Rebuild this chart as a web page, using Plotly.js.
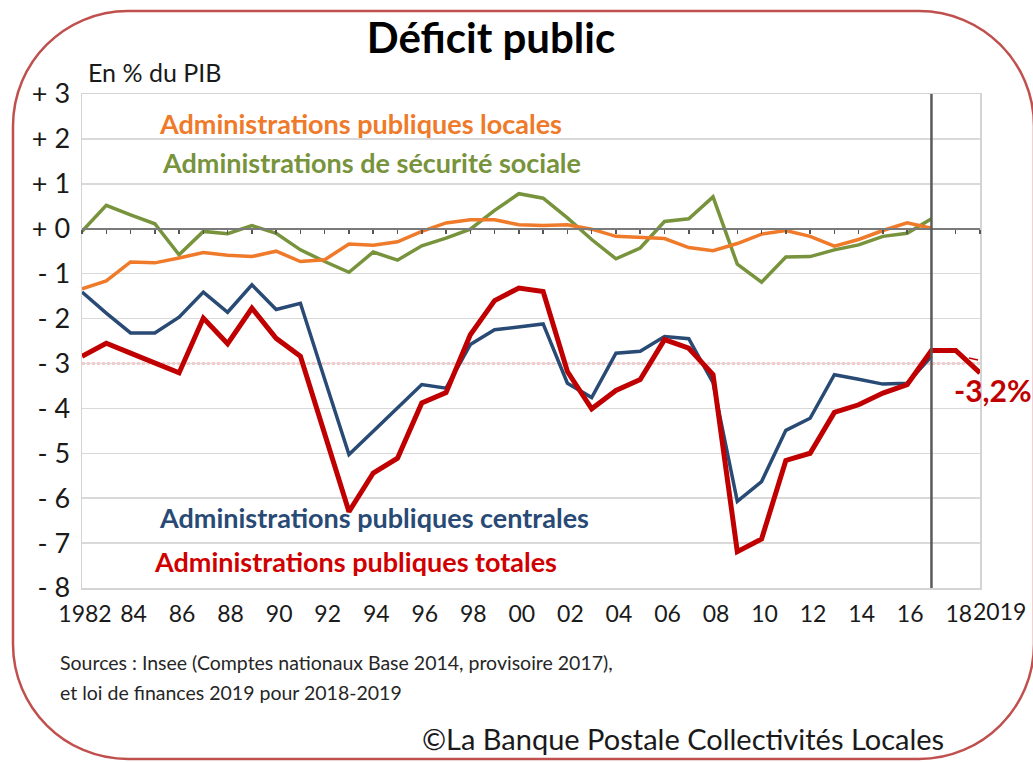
<!DOCTYPE html>
<html>
<head>
<meta charset="utf-8">
<script src="https://cdn.plot.ly/plotly-3.0.1.min.js"></script>
<style>
  html, body { margin: 0; padding: 0; background: #ffffff; }
  #chart { width: 1033px; height: 762px; }
</style>
</head>
<body>
<div id="chart"></div>
<script>
// ---------- DATA ----------
const years = [1982,1983,1984,1985,1986,1987,1988,1989,1990,1991,1992,1993,1994,1995,1996,1997,1998,1999,
               2000,2001,2002,2003,2004,2005,2006,2007,2008,2009,2010,2011,2012,2013,2014,2015,2016,2017,2018,2019];

const apuLocales = [-1.34,-1.16,-0.74,-0.76,-0.65,-0.53,-0.59,-0.62,-0.50,-0.73,-0.69,-0.34,-0.37,-0.29,-0.06,0.13,0.20,0.20,
                    0.09,0.07,0.09,-0.01,-0.17,-0.19,-0.22,-0.42,-0.49,-0.33,-0.12,-0.04,-0.17,-0.39,-0.24,-0.04,0.13,0.01];

const securiteSociale = [-0.06,0.52,0.31,0.11,-0.58,-0.06,-0.11,0.07,-0.10,-0.47,-0.73,-0.97,-0.52,-0.70,-0.38,-0.21,-0.01,0.41,
                         0.78,0.68,0.24,-0.24,-0.67,-0.43,0.16,0.22,0.71,-0.79,-1.19,-0.63,-0.62,-0.47,-0.36,-0.17,-0.10,0.22];

const apuCentrales = [-1.41,-1.88,-2.32,-2.32,-1.97,-1.41,-1.86,-1.25,-1.80,-1.66,-3.35,-5.03,-4.51,-4.00,-3.47,-3.55,-2.58,-2.25,
                      -2.18,-2.12,-3.44,-3.76,-2.77,-2.73,-2.40,-2.45,-3.43,-6.07,-5.63,-4.49,-4.22,-3.25,-3.35,-3.46,-3.44,-2.84];

const apuTotales = [-2.84,-2.55,-2.77,-2.99,-3.21,-1.99,-2.56,-1.77,-2.44,-2.84,-4.57,-6.30,-5.44,-5.11,-3.88,-3.65,-2.36,-1.60,
                    -1.32,-1.40,-3.18,-4.01,-3.60,-3.36,-2.47,-2.66,-3.25,-7.19,-6.91,-5.16,-5.00,-4.09,-3.92,-3.66,-3.47,-2.71,-2.71,-3.21];

const xTickVals = [1982,1984,1986,1988,1990,1992,1994,1996,1998,2000,2002,2004,2006,2008,2010,2012,2014,2016,2018];
const xTickText = ['1982','84','86','88','90','92','94','96','98','00','02','04','06','08','10','12','14','16','18'];
const yTickVals = [3,2,1,0,-1,-2,-3,-4,-5,-6,-7,-8];
const yTickText = ['+ 3','+ 2','+ 1','+ 0','- 1','- 2','- 3','- 4','- 5','- 6','- 7','- 8'];

const seuilMaastricht = -3;
const anneePrevision = 2017;
const lastLabel = '-3,2%';

// ---------- LAYOUT HELPERS ----------
const W = 1033, H = 762;
const ML = 82, MR = 53, MT = 94, MB = 174;
const PW = W - ML - MR, PH = H - MT - MB;
const px = x => (x - ML) / PW;
const py = y => (H - MB - y) / PH;
const FONT = 'Lato, "Open Sans", sans-serif';

const COL_ORANGE = '#EE7A2A';
const COL_GREEN = '#77933C';
const COL_BLUE = '#284A75';
const COL_RED = '#C00000';

function ann(text, x, y, size, color, bold, xanchor) {
  return {
    text: text, xref: 'paper', yref: 'paper', x: px(x), y: py(y),
    xanchor: xanchor || 'left', yanchor: 'middle', showarrow: false,
    font: {family: FONT, size: size, color: color, weight: bold ? 'bold' : 'normal'}
  };
}

// rounded frame path in paper coordinates
function roundedFrame(x0, y0, x1, y1, r) {
  const k = 0.5523 * r;
  const P = (x, y) => px(x).toFixed(5) + ',' + py(y).toFixed(5);
  return 'M' + P(x0 + r, y0) +
    ' L' + P(x1 - r, y0) +
    ' C' + P(x1 - r + k, y0) + ' ' + P(x1, y0 + r - k) + ' ' + P(x1, y0 + r) +
    ' L' + P(x1, y1 - r) +
    ' C' + P(x1, y1 - r + k) + ' ' + P(x1 - r + k, y1) + ' ' + P(x1 - r, y1) +
    ' L' + P(x0 + r, y1) +
    ' C' + P(x0 + r - k, y1) + ' ' + P(x0, y1 - r + k) + ' ' + P(x0, y1 - r) +
    ' L' + P(x0, y0 + r) +
    ' C' + P(x0, y0 + r - k) + ' ' + P(x0 + r - k, y0) + ' ' + P(x0 + r, y0) + ' Z';
}

// ---------- TRACES ----------
const yrs36 = years.slice(0, apuLocales.length);
const traces = [
  // invisible carrier so that the zero axis (xaxis2, with year ticks) gets drawn
  {x: years, y: apuTotales, type: 'scatter', mode: 'lines', xaxis: 'x2', yaxis: 'y',
   opacity: 0, line: {width: 0}, hoverinfo: 'skip', showlegend: false},
  {x: yrs36, y: securiteSociale, type: 'scatter', mode: 'lines', name: 'Administrations de sécurité sociale',
   line: {color: COL_GREEN, width: 3.5}},
  {x: yrs36, y: apuLocales, type: 'scatter', mode: 'lines', name: 'Administrations publiques locales',
   line: {color: COL_ORANGE, width: 3.5}},
  {x: yrs36, y: apuCentrales, type: 'scatter', mode: 'lines', name: 'Administrations publiques centrales',
   line: {color: COL_BLUE, width: 3.5}},
  {x: years, y: apuTotales, type: 'scatter', mode: 'lines', name: 'Administrations publiques totales',
   line: {color: COL_RED, width: 5}}
];

// ---------- LAYOUT ----------
const layout = {
  width: W, height: H,
  margin: {l: ML, r: MR, t: MT, b: MB, pad: 0},
  paper_bgcolor: '#ffffff', plot_bgcolor: '#ffffff',
  showlegend: false,
  font: {family: FONT, color: '#1a1a1a'},
  title: {
    text: 'Déficit public', xref: 'container', yref: 'container',
    x: 491 / W, xanchor: 'center', y: 1 - 38 / H, yanchor: 'middle',
    font: {family: FONT, size: 42, color: '#000000', weight: 'bold'}
  },
  xaxis: {
    range: [years[0], years[years.length - 1]],
    tickvals: xTickVals, ticktext: xTickText,
    ticks: '', showgrid: false, zeroline: false,
    showline: true, mirror: true, linecolor: '#d4d4d4', linewidth: 1.5,
    tickfont: {family: FONT, size: 23, color: '#1a1a1a'},
    ticklabelstandoff: 5, ticklabelshift: 3
  },
  xaxis2: {
    overlaying: 'x', anchor: 'free', position: (0 - (-8)) / 11,
    range: [years[0], years[years.length - 1]],
    tickvals: years, showticklabels: false,
    ticks: 'outside', ticklen: 4, tickwidth: 1.5, tickcolor: '#555555',
    showline: true, linecolor: '#7a7a7a', linewidth: 2.5,
    showgrid: false, zeroline: false
  },
  yaxis: {
    range: [-8, 3],
    tickvals: yTickVals, ticktext: yTickText,
    showgrid: true, gridcolor: '#d9d9d9', gridwidth: 1.5,
    zeroline: false, ticks: '',
    showline: true, mirror: true, linecolor: '#d4d4d4', linewidth: 1.5,
    tickfont: {family: FONT, size: 27, color: '#1a1a1a'},
    ticklabelstandoff: 5
  },
  shapes: [
    {type: 'line', xref: 'x', yref: 'y', x0: years[0], x1: years[years.length - 1],
     y0: seuilMaastricht, y1: seuilMaastricht, line: {color: '#ff1a1a', width: 1.5, dash: '3px,2px'}, layer: 'below'},
    {type: 'line', xref: 'x', yref: 'paper', x0: anneePrevision, x1: anneePrevision, y0: 0, y1: 1,
     line: {color: '#5a5a5a', width: 2.5}},
    {type: 'line', xref: 'paper', yref: 'paper', x0: px(969), x1: px(978), y0: py(358), y1: py(360),
     line: {color: COL_RED, width: 1.5}},
    {type: 'path', xref: 'paper', yref: 'paper', path: roundedFrame(13, 11, 1034, 759, 115),
     line: {color: '#C0504D', width: 2.5}}
  ],
  annotations: [
    ann('En % du PIB', 86, 72, 25, '#1a1a1a', false),
    ann('Administrations publiques locales', 157, 123, 27, COL_ORANGE, true),
    ann('Administrations de sécurité sociale', 160, 162, 27, COL_GREEN, true),
    ann('Administrations publiques centrales', 157, 517, 27, COL_BLUE, true),
    ann('Administrations publiques totales', 152, 561, 27, '#D00000', true),
    ann(lastLabel, 952, 390, 30, COL_RED, true),
    ann('2019', 999, 611, 23, '#1a1a1a', false, 'center'),
    ann('Sources : Insee (Comptes nationaux Base 2014, provisoire 2017),', 58, 662, 19.5, '#262626', false),
    ann('et loi de finances 2019 pour 2018-2019', 58, 692, 19.5, '#262626', false),
    ann('©La Banque Postale Collectivités Locales', 420, 738, 29, '#1a1a1a', false)
  ]
};

Plotly.newPlot('chart', traces, layout, {displayModeBar: false, staticPlot: true});
</script>
</body>
</html>
